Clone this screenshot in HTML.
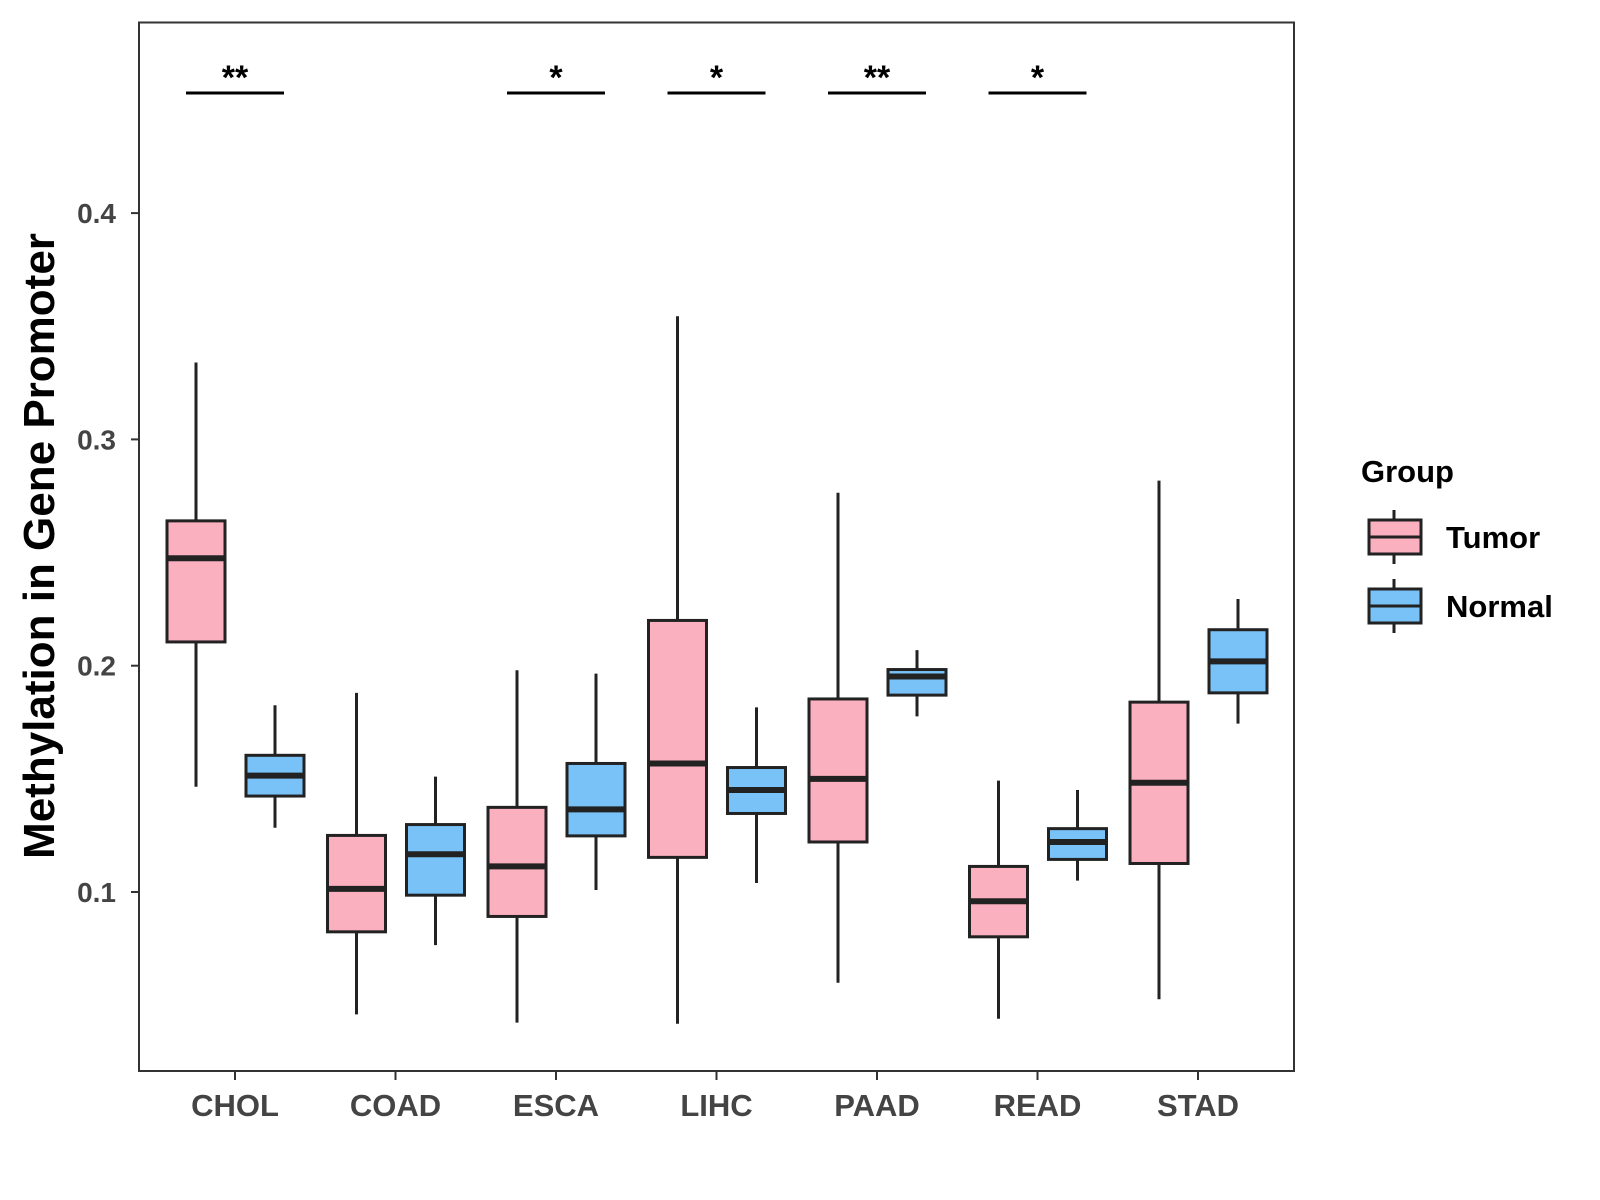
<!DOCTYPE html>
<html><head><meta charset="utf-8"><style>body{margin:0;background:#fff}svg{display:block;font-family:"Liberation Sans",Arial,sans-serif}</style></head>
<body>
<svg id="c" width="1600" height="1200"></svg>
<script>
const categories=["CHOL","COAD","ESCA","LIHC","PAAD","READ","STAD"];
// [low, q1, median, q3, high]
const tumor=[[0.1465,0.2105,0.2475,0.264,0.334],[0.0459,0.0824,0.1014,0.125,0.188],[0.0423,0.0892,0.1113,0.1374,0.198],[0.0418,0.1153,0.1568,0.22,0.3544],[0.0599,0.1221,0.150,0.1853,0.2764],[0.044,0.0802,0.0959,0.1113,0.1492],[0.0526,0.1126,0.1483,0.1839,0.2818]];
const normal=[[0.1284,0.1424,0.1514,0.1604,0.1825],[0.0765,0.0986,0.1167,0.1298,0.151],[0.1009,0.1248,0.1365,0.1568,0.1965],[0.104,0.1347,0.1451,0.155,0.1816],[0.1776,0.187,0.1952,0.1983,0.2069],[0.105,0.1144,0.1221,0.128,0.1451],[0.1744,0.188,0.2019,0.2159,0.2295]];
const sigLabels=["**","","*","*","**","*",""];
const yTicks=[0.1,0.2,0.3,0.4];
const NS="http://www.w3.org/2000/svg",svg=document.getElementById('c');
const L=139,T=22.5,R=1294,B=1071;
const y=v=>892-(v-0.1)*2263;
const x=i=>235+i*160.5;
function mk(t,a,txt){const e=document.createElementNS(NS,t);for(const k in a)e.setAttribute(k,a[k]);if(txt!==undefined)e.textContent=txt;svg.appendChild(e);return e;}
let e=mk('rect',{x:L,y:T,width:R-L,height:B-T,fill:'none',stroke:'#333','stroke-width':2});

yTicks.forEach(v=>{mk('line',{x1:L-8,x2:L,y1:y(v),y2:y(v),stroke:'#333','stroke-width':2});
 e=mk('text',{x:L-23,y:y(v)+10,'text-anchor':'end','font-size':28,'font-weight':'bold',fill:'#444'},v.toFixed(1));
 });
function box(cx,d,fill,name){const w=58;
 mk('line',{x1:cx,x2:cx,y1:y(d[0]),y2:y(d[4]),stroke:'#222','stroke-width':3});
 e=mk('rect',{x:cx-w/2,y:y(d[3]),width:w,height:y(d[1])-y(d[3]),fill:fill,stroke:'#222','stroke-width':3});
 
 mk('line',{x1:cx-w/2,x2:cx+w/2,y1:y(d[2]),y2:y(d[2]),stroke:'#222','stroke-width':6});}
categories.forEach((c,i)=>{
 box(x(i)-39,tumor[i],'#fbb0c0','box-tumor-'+c.toLowerCase());
 box(x(i)+40,normal[i],'#79c2f7','box-normal-'+c.toLowerCase());
 mk('line',{x1:x(i),x2:x(i),y1:B,y2:B+9,stroke:'#333','stroke-width':2});
 e=mk('text',{x:x(i),y:1116,'text-anchor':'middle','font-size':31,'font-weight':'bold',fill:'#444'},c);
 
 if(sigLabels[i]){mk('line',{x1:x(i)-49,x2:x(i)+49,y1:93,y2:93,stroke:'#000','stroke-width':3});
  e=mk('text',{x:x(i),y:89,'text-anchor':'middle','font-size':34,'font-weight':'bold'},sigLabels[i]);
  }
});
e=mk('text',{x:0,y:0,transform:'translate(54,546) rotate(-90)','text-anchor':'middle','font-size':44,'font-weight':'bold'},'Methylation in Gene Promoter');

e=mk('text',{x:1361,y:482,'font-size':31,'font-weight':'bold'},'Group');

[['Tumor','#fbb0c0',520],['Normal','#79c2f7',589]].forEach(([n,f,t])=>{
 mk('line',{x1:1394,x2:1394,y1:t-10,y2:t+44,stroke:'#222','stroke-width':3});
 e=mk('rect',{x:1369,y:t,width:52,height:34,fill:f,stroke:'#222','stroke-width':3});
 
 mk('line',{x1:1369,x2:1421,y1:t+17,y2:t+17,stroke:'#222','stroke-width':3});
 e=mk('text',{x:1446,y:t+28,'font-size':31,'font-weight':'bold'},n);
 
});
</script>
</body></html>
